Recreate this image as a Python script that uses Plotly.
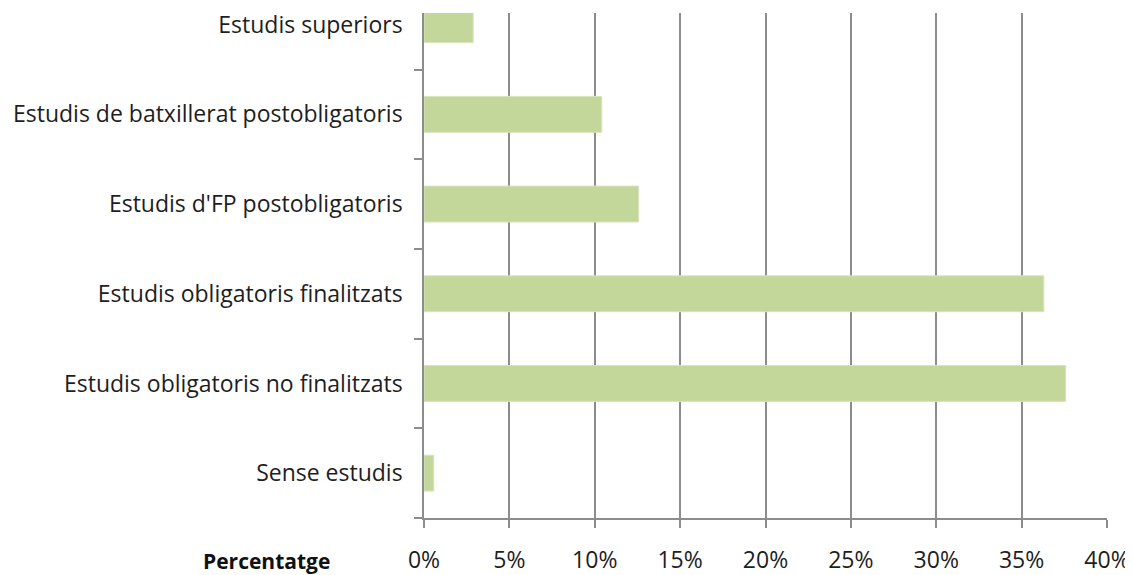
import plotly.graph_objects as go

categories = ["Sense estudis", "Estudis obligatoris no finalitzats", "Estudis obligatoris finalitzats",
              "Estudis d'FP postobligatoris", "Estudis de batxillerat postobligatoris", "Estudis superiors"]
values = [0.57, 37.58, 36.3, 12.57, 10.41, 2.88]
x_ticks = [0, 5, 10, 15, 20, 25, 30, 35, 40]
x_tick_labels = [f"{t}%" for t in x_ticks]

# the page body has a default 8px margin; compensate so the plot lands where the reference has it
OFF = 8
W, H = 1133 - OFF, 575 - OFF
L, R, T, B = 424 - OFF, 26, 13 - OFF, 575 - 518

fig = go.Figure(go.Bar(
    y=categories, x=values, orientation="h",
    marker=dict(color="#C4D79B", line=dict(color="#D8E4BC", width=1)),
))

font_family = "Open Sans, sans-serif"
fig.update_layout(
    width=W, height=H,
    margin=dict(l=L, r=R, t=T, b=B),
    plot_bgcolor="white", paper_bgcolor="white",
    bargap=0.6, showlegend=False,
    font=dict(family=font_family, size=23, color="#1e1e1e"),
    xaxis=dict(range=[0, 40], tickvals=x_ticks, ticktext=x_tick_labels,
               showgrid=True, gridcolor="#8C8C8C", gridwidth=1.5,
               showline=True, linecolor="#8C8C8C", linewidth=1.5,
               ticks="outside", ticklen=8, tickcolor="#8C8C8C", tickwidth=1.5,
               ticklabelstandoff=13, zeroline=False, automargin=False,
               tickfont=dict(size=23, color="#1e1e1e")),
    yaxis=dict(type="category", categoryorder="array", categoryarray=categories,
               range=[-0.5, 5.13], automargin=False,
               showline=True, linecolor="#8C8C8C", linewidth=1.5,
               ticks="outside", ticklen=8, tickcolor="#8C8C8C", tickwidth=1.5,
               tickson="boundaries", ticklabelstandoff=15,
               showgrid=False, tickfont=dict(size=23, color="#1e1e1e")),
)

plot_w = W - L - R
plot_h = H - T - B
fig.add_annotation(text="<b>Percentatge</b>", xref="paper", yref="paper",
                   x=(266 - 424) / plot_w, y=-(561 - 518) / plot_h,
                   xanchor="center", yanchor="middle", showarrow=False,
                   font=dict(size=21, color="#111111", family=font_family))

fig.write_html("out.html")
